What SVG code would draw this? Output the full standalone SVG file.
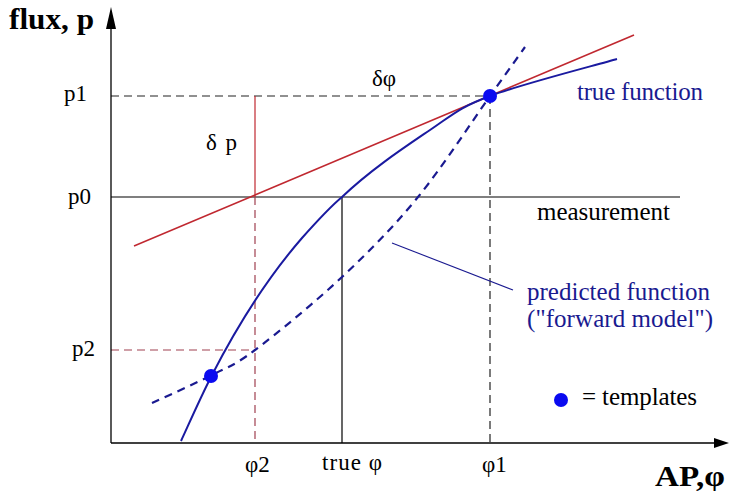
<svg xmlns="http://www.w3.org/2000/svg" width="730" height="491" viewBox="0 0 730 491">
<style>
text{font-family:"Liberation Serif","Times New Roman",serif;fill:#000}
.lbl{font-size:23px}
.big{font-size:25px}
.blue{fill:#1a1a90}
.bold{font-weight:bold;font-size:29px}
.ax{stroke:#000;stroke-width:1.3;fill:none}
.blk{stroke:#000;stroke-width:1.2;fill:none}
.bdash{stroke:#222;stroke-width:1.2;fill:none;stroke-dasharray:8 5}
.rdash{stroke:#a04050;stroke-width:1.2;fill:none;stroke-dasharray:8 5}
.red{stroke:#c02830;stroke-width:1.6;fill:none}
.curve{stroke:#1a1aa0;stroke-width:2;fill:none}
.curved{stroke:#1a1a90;stroke-width:2.2;fill:none;stroke-dasharray:8 6}
.dot{fill:#0a0af0}
</style>
<rect width="730" height="491" fill="#fff"/>
<g id="guides">
<line class="bdash" x1="111" y1="96" x2="490" y2="96"/>
<line class="bdash" x1="490" y1="96" x2="490" y2="443"/>
<line class="blk" x1="111" y1="197" x2="680" y2="197"/>
<line class="blk" x1="342" y1="197" x2="342" y2="443"/>
<line stroke="#c02830" stroke-width="1.2" x1="255" y1="96" x2="255" y2="197"/>
<line class="rdash" x1="255" y1="197" x2="255" y2="443"/>
<line class="rdash" x1="111" y1="350" x2="255" y2="350"/>
</g>
<g id="axes">
<line class="ax" x1="111" y1="443" x2="111" y2="26"/>
<polygon points="111,7 106,29 116,29" fill="#000"/>
<line class="ax" x1="111" y1="443" x2="716" y2="443"/>
<polygon points="729,443 714,438 714,448" fill="#000"/>
</g>
<g id="connectors">
<line class="red" x1="134" y1="246" x2="634" y2="35"/>
<path class="curve" d="M181,441 C186.2,430 199.7,399 212,375 C230,340 262,284 302,238 C318,220 330,207 342,197 C371.2,169.2 405.3,146.8 430,130 C454.7,113.2 458.8,107.8 490,96 C521.2,84.2 595.8,65.2 617,59"/>
<path class="curved" d="M152,403 C162,398.3 194.8,383.8 212,375 C229.2,366.2 233.3,366.3 255,350 C276.7,333.7 314.8,302.5 342,277 C369.2,251.5 393.3,227.2 418,197 C442.7,166.8 472.2,121 490,96 C507.8,71 519.2,55.2 525,47"/>
<line stroke="#1a1a90" stroke-width="1.1" x1="392" y1="243" x2="513" y2="290"/>
</g>
<g id="templates">
<circle class="dot" cx="490" cy="96" r="7"/>
<circle class="dot" cx="211" cy="376" r="7"/>
<circle class="dot" cx="561" cy="400" r="7"/>
</g>
<g id="labels">
<text class="bold" x="9" y="29" textLength="85" lengthAdjust="spacingAndGlyphs">flux, p</text>
<text class="lbl" x="64" y="101">p1</text>
<text class="lbl" x="68" y="204">p0</text>
<text class="lbl" x="72" y="356">p2</text>
<text class="lbl" x="206" y="150" textLength="31">δ p</text>
<text class="lbl" x="372" y="86">δφ</text>
<text class="big blue" x="577" y="100" textLength="126">true function</text>
<text class="big" x="537" y="220" textLength="133">measurement</text>
<text class="big blue" x="527" y="300" textLength="183">predicted function</text>
<text class="big blue" x="527" y="327" textLength="186">("forward model")</text>
<text class="big" x="582" y="405" textLength="115">= templates</text>
<text class="lbl" x="245" y="472">φ2</text>
<text class="lbl" x="322" y="470" textLength="60">true  φ</text>
<text class="lbl" x="482" y="472">φ1</text>
<text class="bold" x="655" y="486" textLength="70" lengthAdjust="spacingAndGlyphs">AP,φ</text>
</g>
</svg>
